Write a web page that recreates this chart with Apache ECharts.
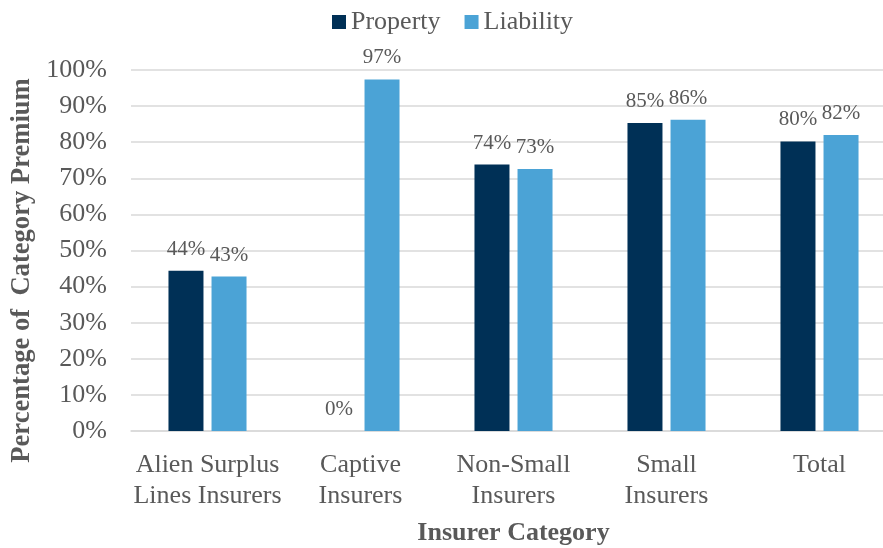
<!DOCTYPE html>
<html>
<head>
<meta charset="utf-8">
<script src="https://cdn.jsdelivr.net/npm/echarts@6/dist/echarts.min.js"></script>
<style>
  html, body { margin: 0; padding: 0; background: #fff; }
  #chart { width: 883px; height: 548px; }
</style>
</head>
<body>
<div id="chart"></div>
<script>
// 数据
const categories = ['Alien Surplus\nLines Insurers', 'Captive\nInsurers', 'Non-Small\nInsurers', 'Small\nInsurers', 'Total'];
const propertyValues = [44.4, 0, 73.8, 85.3, 80.2];
const liabilityValues = [42.8, 97.4, 72.6, 86.2, 82.0];
const yTicks = [0, 10, 20, 30, 40, 50, 60, 70, 80, 90, 100];

const font = '"Liberation Serif", "Times New Roman", serif';
const textColor = '#595959';

const chart = echarts.init(document.getElementById('chart'));

const labelStyle = {
  show: true,
  position: 'top',
  distance: 11,
  fontFamily: font,
  fontSize: 21,
  color: textColor,
  formatter: p => p.value.toFixed(0) + '%',
};

chart.setOption({
  animation: false,
  textStyle: { fontFamily: font },
  legend: {
    top: 4,
    left: 327,
    itemWidth: 14,
    itemHeight: 14,
    itemGap: 24,
    icon: 'rect',
    textStyle: { fontFamily: font, fontSize: 26, color: textColor },
    data: ['Property', 'Liability'],
  },
  // 右侧被裁掉一截，所以用固定宽度，并关闭 outerBounds 的自动收缩
  grid: {
    left: 131,
    width: 765,
    top: 70,
    bottom: 117,
    containLabel: false,
    outerBoundsMode: 'none',
  },
  xAxis: {
    type: 'category',
    data: categories,
    name: 'Insurer Category',
    nameLocation: 'middle',
    nameGap: 89,
    nameTextStyle: { fontFamily: font, fontSize: 26, fontWeight: 'bold', color: textColor },
    axisLine: { lineStyle: { color: '#d9d9d9', width: 1.5 } },
    axisTick: { show: false },
    axisLabel: {
      fontFamily: font,
      fontSize: 26,
      lineHeight: 31,
      color: textColor,
      margin: 19,
      interval: 0,
    },
  },
  yAxis: {
    type: 'value',
    min: yTicks[0],
    max: yTicks[yTicks.length - 1],
    interval: 10,
    name: 'Percentage of  Category Premium',
    nameLocation: 'middle',
    nameGap: 91,
    nameTextStyle: { fontFamily: font, fontSize: 26.6, fontWeight: 'bold', color: textColor, padding: [0, 40, 0, 0] },
    axisLine: { show: false },
    axisTick: { show: false },
    axisLabel: {
      fontFamily: font,
      fontSize: 26,
      color: textColor,
      margin: 24,
      formatter: v => v + '%',
    },
    splitLine: { lineStyle: { color: '#d9d9d9', width: 1.5 } },
  },
  series: [
    {
      name: 'Property',
      type: 'bar',
      data: propertyValues,
      barWidth: 35,
      barGap: '23%',
      itemStyle: { color: '#003056' },
      label: labelStyle,
    },
    {
      name: 'Liability',
      type: 'bar',
      data: liabilityValues,
      barWidth: 35,
      itemStyle: { color: '#4BA3D6' },
      label: labelStyle,
    },
  ],
});
</script>
</body>
</html>
